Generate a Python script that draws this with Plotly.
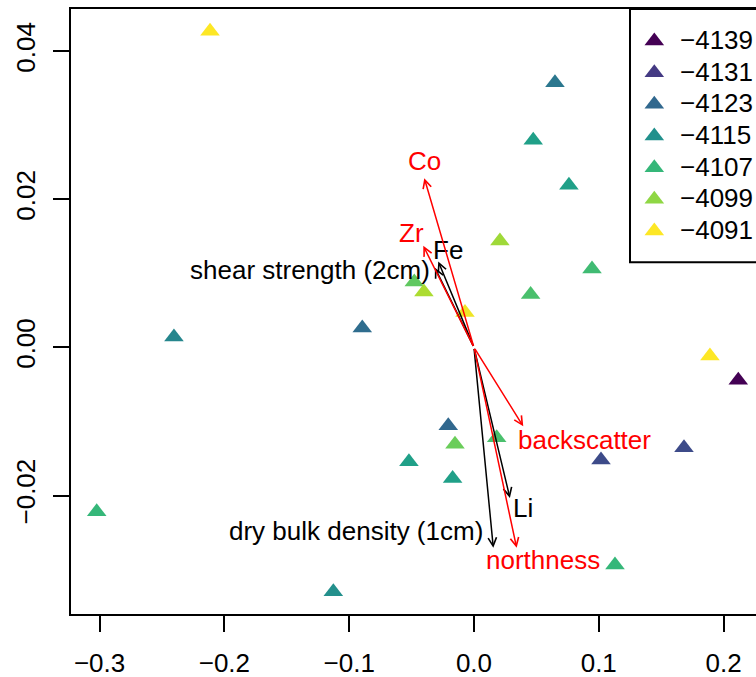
import plotly.graph_objects as go

# ---------------- data ----------------
site_x = [-0.2115, 0.0649, 0.0475, 0.0761, 0.0208, 0.0454, -0.0478, -0.0401,
          -0.0072, 0.0946, -0.2404, -0.0895, 0.1891, 0.2118, 0.1683, 0.1018,
          -0.0206, -0.0152, 0.0182, -0.0521, -0.0171, -0.3023, -0.1127, 0.1130]
site_y = [0.04271, 0.03574, 0.02796, 0.02189, 0.01437, 0.00713, 0.00884, 0.00749,
          0.00470, 0.01059, 0.00142, 0.00263, -0.00115, -0.00443, -0.01356, -0.01522,
          -0.01059, -0.01306, -0.01221, -0.01545, -0.01771, -0.02220, -0.03300, -0.02939]
site_depth = [-4091, -4120, -4112, -4112, -4098, -4105, -4103, -4097,
              -4092, -4106, -4117, -4122, -4091, -4139, -4128, -4128,
              -4123, -4102, -4105, -4112, -4112, -4107, -4115, -4107]

legend_levels = ["\u22124139", "\u22124131", "\u22124123", "\u22124115",
                 "\u22124107", "\u22124099", "\u22124091"]
legend_colors = ["#440154", "#443A83", "#31688E", "#21908C",
                 "#35B779", "#8FD744", "#FDE725"]

red_vars = ["Co", "Zr", "backscatter", "northness"]
red_x = [-0.0398, -0.0406, 0.0395, 0.0342]
red_y = [0.02286, 0.01372, -0.01066, -0.02707]

black_vars = ["Fe", "shear strength (2cm)", "Li", "dry bulk density (1cm)"]
black_x = [-0.0286, -0.0313, 0.0288, 0.0155]
black_y = [0.01161, 0.01076, -0.02032, -0.02707]

x_ticks = [-0.3, -0.2, -0.1, 0.0, 0.1, 0.2]
y_ticks = [-0.02, 0.0, 0.02, 0.04]

# ---------------- layout helpers ----------------
XR = [-0.3229, 0.2260]
YR = [-0.0360, 0.0457]
FONT = "Liberation Sans, Arial, Helvetica, sans-serif"
FS = 26
MS = 17

# label placement (data coords) and anchors
red_lab = {"Co": (-0.0393, 0.0252, "center"),
           "Zr": (-0.0497, 0.01548, "center"),
           "backscatter": (0.0337, -0.01246, "left"),
           "northness": (0.0553, -0.02865, "center")}
black_lab = {"Fe": (-0.0211, 0.01318, "center"),
             "shear strength (2cm)": (-0.0335, 0.01049, "right"),
             "Li": (0.0395, -0.02167, "center"),
             "dry bulk density (1cm)": (0.0088, -0.02483, "right")}

fig = go.Figure()

fig.add_trace(go.Scatter(
    x=site_x, y=site_y, mode="markers",
    marker=dict(symbol="triangle-up", size=MS, color=site_depth,
                colorscale="Viridis", cmin=-4139, cmax=-4091,
                line=dict(width=0)),
    showlegend=False, hoverinfo="skip"))

annotations = []


def add_arrows(names, xs, ys, color, labs):
    for n, x, y in zip(names, xs, ys):
        annotations.append(dict(
            x=x, y=y, ax=0, ay=0, xref="x", yref="y", axref="x", ayref="y",
            text="", showarrow=True, arrowhead=5, arrowsize=1.1,
            arrowwidth=1.5, arrowcolor=color, standoff=0, startstandoff=0))
        lx, ly, anc = labs[n]
        annotations.append(dict(
            x=lx, y=ly, xref="x", yref="y", text=n, showarrow=False,
            xanchor=anc, yanchor="middle",
            font=dict(family=FONT, size=FS, color=color)))


add_arrows(black_vars, black_x, black_y, "black", black_lab)
add_arrows(red_vars, red_x, red_y, "red", red_lab)

# ---------------- legend (drawn manually) ----------------
W, H = 756, 677
L, T = 71, 9
PW = W - L
PH = 605


def px2dx(px):
    return XR[0] + (px - L) / PW * (XR[1] - XR[0])


def py2dy(py):
    return YR[1] - (py - T) / PH * (YR[1] - YR[0])


shapes = [dict(type="rect", xref="x", yref="y",
               x0=px2dx(630), x1=px2dx(800), y0=py2dy(262.3), y1=YR[1],
               line=dict(color="black", width=2), fillcolor="white",
               layer="below")]

leg_px = [px2dx(654.3)] * len(legend_levels)
leg_py = [py2dy(41 + 31.67 * i) for i in range(len(legend_levels))]
fig.add_trace(go.Scatter(
    x=leg_px, y=leg_py, mode="markers",
    marker=dict(symbol="triangle-up", size=MS, color=legend_colors),
    showlegend=False, hoverinfo="skip", cliponaxis=False))
for i, lab in enumerate(legend_levels):
    annotations.append(dict(
        x=px2dx(678), y=py2dy(40 + 31.67 * i), xref="x", yref="y",
        text=lab, showarrow=False, xanchor="left", yanchor="middle",
        font=dict(family=FONT, size=FS, color="black")))

fig.update_layout(
    width=W, height=H,
    margin=dict(l=L, r=0, t=T, b=H - T - PH, pad=0),
    paper_bgcolor="white", plot_bgcolor="white",
    font=dict(family=FONT, size=FS, color="black"),
    xaxis=dict(range=XR, tickvals=x_ticks, tickformat=".1f",
               ticks="outside", ticklen=16, tickwidth=2, tickcolor="black",
               showline=True, linecolor="black", linewidth=2, mirror=True,
               showgrid=False, zeroline=False, ticklabelstandoff=9,
               tickfont=dict(family=FONT, size=FS, color="black")),
    yaxis=dict(range=YR, tickvals=y_ticks, tickformat=".2f", tickangle=-90,
               ticks="outside", ticklen=16, tickwidth=2, tickcolor="black",
               showline=True, linecolor="black", linewidth=2, mirror=False,
               showgrid=False, zeroline=False, ticklabelstandoff=8,
               tickfont=dict(family=FONT, size=FS, color="black")),
    annotations=annotations,
    shapes=shapes,
)

fig.write_html("out.html")
